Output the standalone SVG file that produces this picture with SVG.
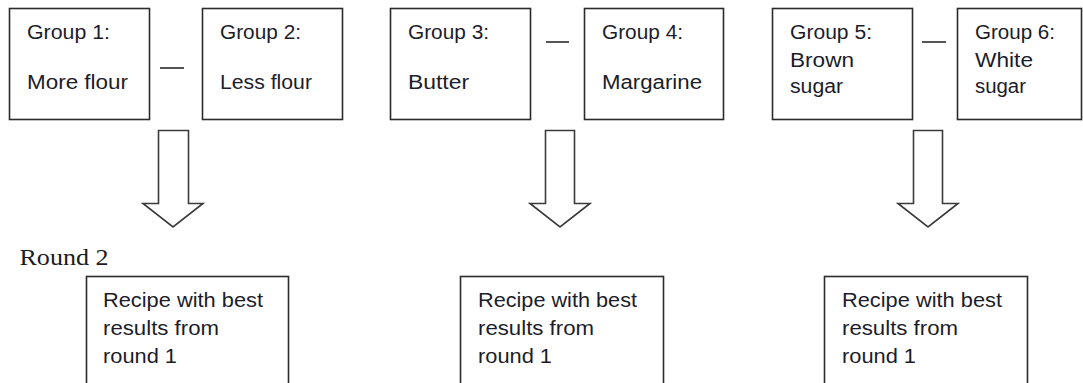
<svg xmlns="http://www.w3.org/2000/svg" width="1083" height="383" viewBox="0 0 1083 383">
<style>
.box{fill:#fff;stroke:#2b2b2b;stroke-width:1.6}
.t{font-family:"Liberation Sans",Arial,sans-serif;font-size:20px;fill:#1c1c2a}
.s{font-family:"Liberation Serif","Times New Roman",serif;font-size:24px;fill:#1c1c1c}
.dash{stroke:#2b2b2b;stroke-width:1.6}
.arrow{fill:#fff;stroke:#3a3a3a;stroke-width:1.6;stroke-linejoin:miter}
</style>
<rect width="1083" height="383" fill="#fff"/>
<g id="group1">
<rect class="box" x="9.5" y="8.5" width="140" height="111"/>
<text class="t" x="27" y="39" textLength="83" lengthAdjust="spacingAndGlyphs">Group 1:</text>
<text class="t" x="27" y="89" textLength="101" lengthAdjust="spacingAndGlyphs">More flour</text>
</g>
<g id="group2">
<rect class="box" x="202.5" y="8.5" width="140" height="111"/>
<text class="t" x="220" y="39" textLength="81" lengthAdjust="spacingAndGlyphs">Group 2:</text>
<text class="t" x="220" y="89" textLength="92" lengthAdjust="spacingAndGlyphs">Less flour</text>
</g>
<g id="group3">
<rect class="box" x="390.5" y="8.5" width="140" height="111"/>
<text class="t" x="408" y="39" textLength="81" lengthAdjust="spacingAndGlyphs">Group 3:</text>
<text class="t" x="408" y="89" textLength="61" lengthAdjust="spacingAndGlyphs">Butter</text>
</g>
<g id="group4">
<rect class="box" x="584.5" y="8.5" width="139" height="111"/>
<text class="t" x="602" y="39" textLength="81" lengthAdjust="spacingAndGlyphs">Group 4:</text>
<text class="t" x="602" y="89" textLength="100" lengthAdjust="spacingAndGlyphs">Margarine</text>
</g>
<g id="group5">
<rect class="box" x="772.5" y="8.5" width="140" height="111"/>
<text class="t" x="790" y="39" textLength="82" lengthAdjust="spacingAndGlyphs">Group 5:</text>
<text class="t" x="790" y="66.5" textLength="64" lengthAdjust="spacingAndGlyphs">Brown</text>
<text class="t" x="790" y="93" textLength="53" lengthAdjust="spacingAndGlyphs">sugar</text>
</g>
<g id="group6">
<rect class="box" x="957.5" y="8.5" width="124" height="111"/>
<text class="t" x="975" y="39" textLength="80" lengthAdjust="spacingAndGlyphs">Group 6:</text>
<text class="t" x="975" y="66.5" textLength="58" lengthAdjust="spacingAndGlyphs">White</text>
<text class="t" x="975" y="93" textLength="51" lengthAdjust="spacingAndGlyphs">sugar</text>
</g>
<g id="round2-label">
<text class="s" x="19.5" y="265" textLength="89" lengthAdjust="spacingAndGlyphs">Round 2</text>
</g>
<g id="recipe1">
<rect class="box" x="86.5" y="276.5" width="202" height="120"/>
<text class="t" x="103" y="307" textLength="160" lengthAdjust="spacingAndGlyphs">Recipe with best</text>
<text class="t" x="103" y="335" textLength="116" lengthAdjust="spacingAndGlyphs">results from</text>
<text class="t" x="103" y="363" textLength="74" lengthAdjust="spacingAndGlyphs">round 1</text>
</g>
<g id="recipe2">
<rect class="box" x="460.5" y="276.5" width="203" height="120"/>
<text class="t" x="478" y="307" textLength="159" lengthAdjust="spacingAndGlyphs">Recipe with best</text>
<text class="t" x="478" y="335" textLength="116" lengthAdjust="spacingAndGlyphs">results from</text>
<text class="t" x="478" y="363" textLength="74" lengthAdjust="spacingAndGlyphs">round 1</text>
</g>
<g id="recipe3">
<rect class="box" x="824.5" y="276.5" width="203" height="120"/>
<text class="t" x="842" y="307" textLength="160" lengthAdjust="spacingAndGlyphs">Recipe with best</text>
<text class="t" x="842" y="335" textLength="116" lengthAdjust="spacingAndGlyphs">results from</text>
<text class="t" x="842" y="363" textLength="74" lengthAdjust="spacingAndGlyphs">round 1</text>
</g>
<g id="connectors">
<line class="dash" x1="160" y1="68" x2="184" y2="68"/>
<line class="dash" x1="546" y1="42" x2="569" y2="42"/>
<line class="dash" x1="922" y1="42" x2="946" y2="42"/>
<polygon class="arrow" points="158.5,130.5 188.5,130.5 188.5,203.5 203,203.5 173,227 143,203.5 158.5,203.5"/>
<polygon class="arrow" points="545.5,130.5 574.5,130.5 574.5,203.5 590,203.5 560,227 530,203.5 545.5,203.5"/>
<polygon class="arrow" points="913.5,130.5 942.5,130.5 942.5,203.5 958,203.5 928,227 898,203.5 913.5,203.5"/>
</g>
</svg>
